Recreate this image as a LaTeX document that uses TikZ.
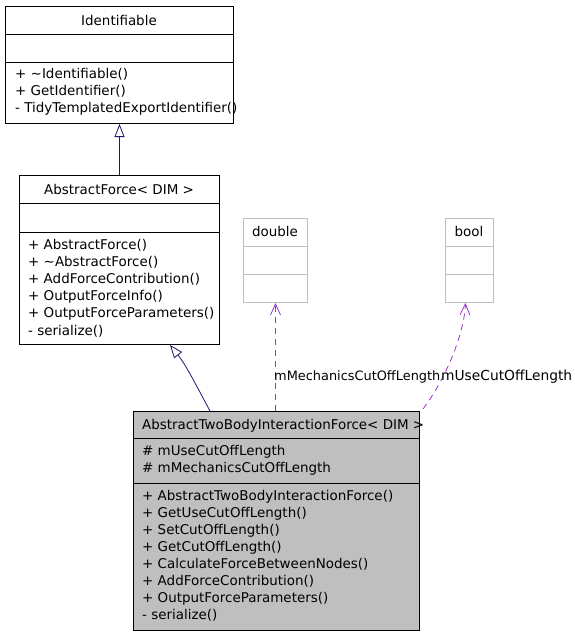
\documentclass[tikz,border=0pt]{standalone}
\usepackage{fontspec}
\setmainfont{DejaVu Sans}
\usetikzlibrary{arrows.meta}
\definecolor{inhcol}{HTML}{191970}
\definecolor{usecol}{HTML}{9A32CD}
\definecolor{boxgray}{HTML}{BFBFBF}
\tikzset{
  umlbox/.style={draw=black, line width=1pt, rectangle, inner sep=0pt, anchor=north west},
  lightbox/.style={draw=boxgray, line width=1pt, rectangle, inner sep=0pt, anchor=north west},
  sep/.style={line width=1pt},
  lsep/.style={line width=1pt, draw=boxgray},
  txt/.style={inner sep=0pt, anchor=base west, font=\fontsize{13.45}{17}\selectfont},
  ctxt/.style={inner sep=0pt, anchor=base, font=\fontsize{13.45}{17}\selectfont},
  inherit/.style={draw=inhcol, line width=0.8pt, -{Triangle[open, length=13pt, width=10pt, fill=white]}},
  uses/.style={draw=usecol, line width=0.8pt, dash pattern=on 6pt off 5pt, -{Straight Barb[length=11pt, width=10pt]}},
}
\begin{document}
\begin{tikzpicture}[x=1pt, y=-1pt]
\useasboundingbox (0,0) rectangle (575,635);
% Identifiable
\node[umlbox, minimum width=228pt, minimum height=117pt] (id) at (5,6) {};
\draw[sep] (5,34) -- (233,34);
\draw[sep] (5,62) -- (233,62);
\node[ctxt] (idt) at (119,25) {Identifiable};
\node[txt] (id1) at (15,78) {+ \textasciitilde Identifiable()};
\node[txt] (id2) at (15,95) {+ GetIdentifier()};
\node[txt] (id3) at (15,112) {- TidyTemplatedExportIdentifier()};
% AbstractForce
\node[umlbox, minimum width=200pt, minimum height=169pt] (af) at (19,175) {};
\draw[sep] (19,203) -- (219,203);
\draw[sep] (19,232) -- (219,232);
\node[ctxt] (aft) at (119,194) {AbstractForce< DIM >};
\node[txt] (af1) at (28,249) {+ AbstractForce()};
\node[txt] (af2) at (28,266) {+ \textasciitilde AbstractForce()};
\node[txt] (af3) at (28,283) {+ AddForceContribution()};
\node[txt] (af4) at (28,300) {+ OutputForceInfo()};
\node[txt] (af5) at (28,317) {+ OutputForceParameters()};
\node[txt] (af6) at (28,335) {- serialize()};
% double
\node[lightbox, minimum width=64pt, minimum height=84pt] (dbl) at (243,218) {};
\draw[lsep] (243,246) -- (307,246);
\draw[lsep] (243,274) -- (307,274);
\node[ctxt] (dblt) at (275,236) {double};
% bool
\node[lightbox, minimum width=48pt, minimum height=84pt] (bool) at (445,218) {};
\draw[lsep] (445,246) -- (493,246);
\draw[lsep] (445,274) -- (493,274);
\node[ctxt] (boolt) at (469,236) {bool};
% AbstractTwoBodyInteractionForce
\node[umlbox, fill=boxgray, minimum width=286pt, minimum height=219pt] (two) at (133,411) {};
\draw[sep] (133,438) -- (419,438);
\draw[sep] (133,483) -- (419,483);
\node[txt] (twot) at (142,429) {AbstractTwoBodyInteractionForce< DIM >};
\node[txt] (tw1) at (142,455) {\# mUseCutOffLength};
\node[txt] (tw2) at (142,472) {\# mMechanicsCutOffLength};
\node[txt] (tm1) at (142,500) {+ AbstractTwoBodyInteractionForce()};
\node[txt] (tm2) at (142,517) {+ GetUseCutOffLength()};
\node[txt] (tm3) at (142,534) {+ SetCutOffLength()};
\node[txt] (tm4) at (142,551) {+ GetCutOffLength()};
\node[txt] (tm5) at (142,568) {+ CalculateForceBetweenNodes()};
\node[txt] (tm6) at (142,585) {+ AddForceContribution()};
\node[txt] (tm7) at (142,602) {+ OutputForceParameters()};
\node[txt] (tm8) at (142,619) {- serialize()};
% connectors
\draw[inherit] (af.north) -- (id.south);
\draw[inherit] ([xshift=77pt]two.north west) .. controls (196,385) and (186,365) .. ([xshift=151pt]af.south west);
\draw[uses] (two.north -| dbl.south) -- (dbl.south);
\draw[uses] ([xshift=3pt,yshift=2pt]two.north east) .. controls (445,380) and (464,335) .. ([xshift=-4pt]bool.south);
\node[txt, font=\fontsize{12.9}{17}\selectfont] (l1) at (274,380) {mMechanicsCutOffLength};
\node[txt, font=\fontsize{13.8}{17}\selectfont] (l2) at (441,380) {mUseCutOffLength};
\end{tikzpicture}
\end{document}
